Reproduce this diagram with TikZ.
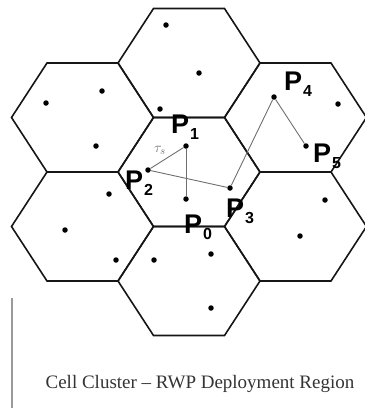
\documentclass[tikz,border=0pt]{standalone}
\usepackage{fontspec}
\setmainfont{Liberation Serif}
\newfontfamily\labelfont{Liberation Sans}
\usetikzlibrary{positioning}
\definecolor{CellEdge}{HTML}{161616}
\definecolor{TrackGray}{HTML}{6E6E6E}

\tikzset{
  cell/.style={draw=CellEdge, line width=1.6pt, line join=miter},
  user/.style={circle, fill=black, inner sep=0pt, minimum size=5.5pt},
  track/.style={draw=TrackGray, line width=0.9pt},
  plab/.style={anchor=base west, inner sep=0pt,
               font=\labelfont\bfseries\fontsize{27}{27}\selectfont},
}
% lowered index after the P
\newcommand{\wpsub}[1]{\kern1pt\raisebox{-6pt}{\fontsize{16}{16}\selectfont #1}}

\begin{document}
\begin{tikzpicture}[x=1pt,y=-1pt]
  \useasboundingbox (0,0) rectangle (365,408);

  % seven-cell cluster
  \foreach \cx/\cy in {189/63, 82.5/117.5, 295.5/117.5, 189/172,
                       82.5/226.5, 295.5/226.5, 189/281}
    \draw[cell] (\cx-71,\cy) -- ++(35.5,-54.5) -- ++(71,0) -- ++(35.5,54.5)
                -- ++(-35.5,54.5) -- ++(-71,0) -- cycle;

  % other nodes of the deployment
  \foreach \x/\y in {166/25, 199/73, 160/109, 46/103, 102/91, 96/146,
                     338/104, 109/194, 65/230, 116/260, 154/260, 211/254,
                     211/308, 325/200, 300/236}
    \node[user] at (\x,\y) {};

  % waypoints
  \node[user] (p0) at (186,199) {};
  \node[user] (p1) at (186,146) {};
  \node[user] (p2) at (148,170) {};
  \node[user] (p3) at (230,188) {};
  \node[user] (p4) at (274,97) {};
  \node[user] (p5) at (306,146) {};

  \draw[track] (p1) -- (p0);
  \draw[track] (p1) -- (p2);
  \draw[track] (p2) -- (p3);
  \draw[track] (p3) -- (p4);
  \draw[track] (p4) -- (p5);
  \node[text=TrackGray, font=\fontsize{15}{15}\selectfont] (tau) at (160,150) {$\tau_s$};

  \node[plab] (l0) at (184,233) {P\wpsub{0}};
  \node[plab] (l1) at (171,133) {P\wpsub{1}};
  \node[plab] (l2) at (125,189) {P\wpsub{2}};
  \node[plab] (l3) at (226,217) {P\wpsub{3}};
  \node[plab] (l4) at (284,90) {P\wpsub{4}};
  \node[plab] (l5) at (313,162) {P\wpsub{5}};

  \draw[TrackGray!70, line width=1.2pt] (12,298) -- (12,408);
  \node[anchor=base, text=black!80, font=\fontsize{19}{19}\selectfont]
    (caption) at (200,388) {Cell Cluster -- RWP Deployment Region};
\end{tikzpicture}
\end{document}
